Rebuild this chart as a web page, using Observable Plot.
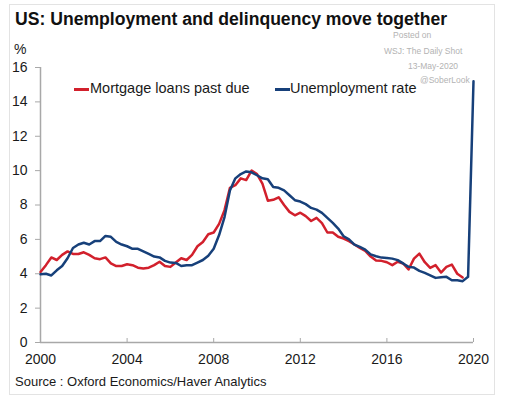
<!DOCTYPE html>
<html>
<head>
<meta charset="utf-8">
<script src="https://cdn.jsdelivr.net/npm/d3@7"></script>
<script src="https://cdn.jsdelivr.net/npm/@observablehq/plot@0.6"></script>
<style>
  html, body { margin: 0; padding: 0; background: #fff; }
  body { font-family: "Liberation Sans", Arial, sans-serif; color: #1a1a1a; }
  #wrap { position: relative; width: 506px; height: 398px; overflow: hidden; }
  #frame { position: absolute; left: 9px; top: 4px; width: 484px; height: 389px; border: 1px solid #e3e3e3; box-sizing: content-box; }
  .abs { position: absolute; white-space: nowrap; }
  #title { left: 15px; top: 9px; font-size: 17.6px; font-weight: bold; color: #111; }
  #pct { left: 14px; top: 41px; font-size: 14px; }
  .wm { font-size: 8.5px; color: #b3b3b3; }
  .leg { font-size: 14.5px; top: 80px; }
  .sw { position: absolute; height: 2.5px; top: 88px; }
  #source { left: 15px; top: 374px; font-size: 13px; }
  #chart { position: absolute; left: 0; top: 0; }
</style>
</head>
<body>
<div id="wrap">
  <div id="frame"></div>
  <div id="chart"></div>
  <div class="abs" id="title">US: Unemployment and delinquency move together</div>
  <div class="abs" id="pct">%</div>
  <div class="abs wm" style="left:393px;top:30px">Posted on</div>
  <div class="abs wm" style="left:384px;top:46px">WSJ: The Daily Shot</div>
  <div class="abs wm" style="left:408px;top:61px">13-May-2020</div>
  <div class="abs wm" style="left:420px;top:75px">@SoberLook</div>
  <div class="sw" style="left:74px;width:15px;background:#d2202c"></div>
  <div class="abs leg" style="left:90px">Mortgage loans past due</div>
  <div class="sw" style="left:275px;width:15px;background:#17407a"></div>
  <div class="abs leg" style="left:290px">Unemployment rate</div>
  <div class="abs" id="source">Source : Oxford Economics/Haver Analytics</div>
</div>
<script>
// Time axis: quarterly observations starting 2000 Q1
const startYear = 2000;
const stepYears = 0.25;

// Mortgage loans past due, % (quarterly, 2000.00 ... 2019.50)
const mortgagePastDue = [
  4.10, 4.50, 4.95, 4.80, 5.10, 5.30, 5.15, 5.15,
  5.25, 5.10, 4.90, 4.85, 4.95, 4.60, 4.45, 4.45,
  4.55, 4.50, 4.35, 4.30, 4.35, 4.50, 4.70, 4.45,
  4.40, 4.65, 4.90, 4.80, 5.10, 5.60, 5.85, 6.30,
  6.40, 6.90, 7.70, 9.00, 9.15, 9.55, 9.45, 10.00,
  9.80, 9.25, 8.25, 8.30, 8.45, 8.00, 7.60, 7.40,
  7.55, 7.35, 7.07, 7.25, 6.95, 6.40, 6.40, 6.15,
  6.05, 5.90, 5.70, 5.50, 5.33, 5.00, 4.77, 4.75,
  4.67, 4.50, 4.70, 4.60, 4.25, 4.88, 5.17, 4.67,
  4.34, 4.50, 4.07, 4.40, 4.53, 4.00, 3.78
];

// Unemployment rate, % (quarterly, 2000.00 ... 2019.75, then 2020.00)
const unemploymentRate = [
  3.97, 4.00, 3.90, 4.20, 4.45, 4.90, 5.50, 5.70,
  5.80, 5.70, 5.90, 5.90, 6.20, 6.15, 5.85, 5.70,
  5.60, 5.45, 5.45, 5.30, 5.15, 5.00, 4.95, 4.75,
  4.65, 4.63, 4.45, 4.50, 4.50, 4.65, 4.80, 5.05,
  5.45, 6.25, 7.30, 8.85, 9.55, 9.80, 9.95, 9.90,
  9.73, 9.55, 9.50, 9.05, 9.00, 8.85, 8.57, 8.28,
  8.20, 8.05, 7.83, 7.73, 7.54, 7.25, 6.96, 6.63,
  6.18, 6.00, 5.70, 5.56, 5.40, 5.13, 5.02, 4.94,
  4.92, 4.88, 4.79, 4.60, 4.40, 4.36, 4.17, 4.05,
  3.91, 3.76, 3.80, 3.82, 3.62, 3.62, 3.57, 3.82,
  15.20
];

const xTicks = [2000, 2004, 2008, 2012, 2016, 2020];
const yTicks = [0, 2, 4, 6, 8, 10, 12, 14, 16];

const seriesNames = ["Mortgage loans past due", "Unemployment rate"];
const seriesColors = ["#d2202c", "#17407a"];

const toRows = (vals, name) => vals.map((v, i) => ({date: startYear + i * stepYears, value: v, series: name}));
const mortgageRows = toRows(mortgagePastDue, seriesNames[0]);
const unempRows = toRows(unemploymentRate, seriesNames[1]);

const axisGray = "#a8a8a8";

const chart = Plot.plot({
  width: 506,
  height: 398,
  marginLeft: 40,
  marginRight: 33,
  marginTop: 67,
  marginBottom: 56,
  style: {fontFamily: '"Liberation Sans", Arial, sans-serif', fontSize: "14px", color: "#1a1a1a", background: "transparent"},
  x: {domain: [2000, 2020], ticks: xTicks, tickFormat: d => String(d)},
  y: {domain: [0, 16], ticks: yTicks},
  marks: [
    Plot.ruleX([2000], {stroke: axisGray, strokeWidth: 1.5}),
    Plot.ruleY([0], {stroke: axisGray, strokeWidth: 1.5}),
    Plot.axisY({ticks: yTicks, tickSize: 5, tickPadding: 8, stroke: axisGray, fill: "#1a1a1a", fontSize: 14, label: null}),
    Plot.axisX({ticks: xTicks, tickFormat: d => String(d), tickSize: -4, tickPadding: 16, stroke: axisGray, fill: "#1a1a1a", fontSize: 14, label: null}),
    Plot.line(mortgageRows, {x: "date", y: "value", stroke: seriesColors[0], strokeWidth: 2.5}),
    Plot.line(unempRows, {x: "date", y: "value", stroke: seriesColors[1], strokeWidth: 2.5})
  ]
});
document.getElementById("chart").appendChild(chart);
</script>
</body>
</html>
